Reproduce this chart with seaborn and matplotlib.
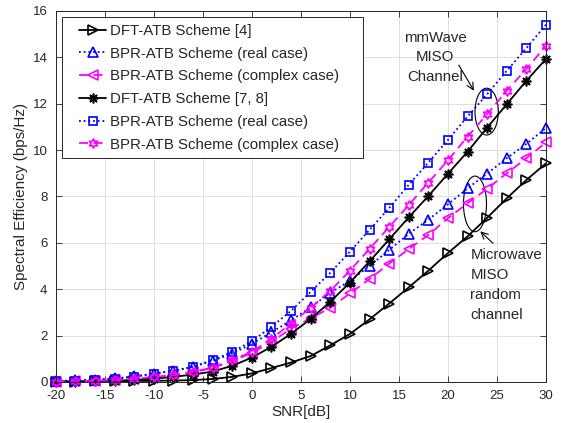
import numpy as np
import pandas as pd
import matplotlib
matplotlib.use("Agg")
import matplotlib.pyplot as plt
from matplotlib.patches import Ellipse
from matplotlib.legend_handler import HandlerLine2D
import seaborn as sns

# SNR grid (dB)
snr = list(range(-20, 31, 2))

# Microwave MISO random channel
dft_4 = [0.02, 0.02, 0.03, 0.03, 0.04, 0.05, 0.06, 0.08, 0.13, 0.22, 0.37, 0.60, 0.84,
         1.12, 1.58, 2.07, 2.70, 3.38, 4.08, 4.80, 5.56, 6.28, 7.08, 7.92, 8.71, 9.43]
bpr_real_mw = [0.05, 0.07, 0.10, 0.15, 0.24, 0.36, 0.48, 0.65, 0.92, 1.22, 1.65, 2.14, 2.66,
               3.22, 3.85, 4.36, 5.00, 5.69, 6.39, 7.00, 7.66, 8.35, 8.99, 9.65, 10.27, 10.95]
bpr_cplx_mw = [0.02, 0.03, 0.05, 0.08, 0.13, 0.20, 0.28, 0.42, 0.60, 0.90, 1.25, 1.73, 2.30,
               2.75, 3.19, 3.82, 4.44, 5.10, 5.73, 6.34, 7.06, 7.71, 8.33, 9.00, 9.65, 10.33]

# mmWave MISO channel
dft_78 = [0.01, 0.02, 0.03, 0.05, 0.09, 0.14, 0.22, 0.32, 0.45, 0.70, 1.05, 1.52, 2.08,
          2.72, 3.46, 4.29, 5.20, 6.15, 7.10, 8.02, 8.98, 9.93, 10.97, 11.98, 12.99, 13.93]
bpr_real_mm = [0.03, 0.05, 0.08, 0.14, 0.22, 0.36, 0.48, 0.66, 0.94, 1.30, 1.76, 2.38, 3.07,
               3.89, 4.71, 5.62, 6.56, 7.50, 8.50, 9.46, 10.44, 11.45, 12.41, 13.42, 14.40, 15.41]
bpr_cplx_mm = [0.02, 0.03, 0.05, 0.08, 0.13, 0.22, 0.29, 0.43, 0.62, 0.94, 1.30, 1.87, 2.52,
               3.20, 3.93, 4.80, 5.74, 6.68, 7.63, 8.60, 9.56, 10.58, 11.55, 12.56, 13.50, 14.50]

labels = ["DFT-ATB Scheme [4]", "BPR-ATB Scheme (real case)", "BPR-ATB Scheme (complex case)",
          "DFT-ATB Scheme [7, 8]", "BPR-ATB Scheme (real case)", "BPR-ATB Scheme (complex case)"]

sns.set_theme(style="whitegrid")
plt.rcParams['font.family'] = ['Liberation Sans', 'DejaVu Sans']
plt.rcParams['axes.unicode_minus'] = False

fig, ax = plt.subplots(figsize=(5.64, 4.23), dpi=100)
fig.subplots_adjust(left=0.099, right=0.968, bottom=0.097, top=0.974)

dotted = (0, (1, 1.6))
dashed = (0, (5, 3))
styles = [
    (dft_4, 'black', '-', '>'),
    (bpr_real_mw, '#0000ff', dotted, '^'),
    (bpr_cplx_mw, '#ff00ff', dashed, '<'),
    (dft_78, 'black', '-', (8, 2, 0)),
    (bpr_real_mm, '#0000ff', dotted, 's'),
    (bpr_cplx_mm, '#ff00ff', dashed, (6, 1, 0)),
]

for (vals, col, ls, mk), lab in zip(styles, labels):
    df = pd.DataFrame({'snr': snr, 'se': vals})
    ms = 6 if mk == 's' else 7
    sns.lineplot(data=df, x='snr', y='se', ax=ax, color=col, linestyle=ls, linewidth=1.3,
                 marker=mk, markersize=ms, markerfacecolor='none', markeredgecolor=col,
                 markeredgewidth=1.2, label=lab + '    ', clip_on=False)

ax.set_xlim(-20, 30)
ax.set_ylim(0, 16)
ax.set_xticks(range(-20, 31, 5))
ax.set_yticks(range(0, 17, 2))
ax.set_xlabel('SNR[dB]', fontsize=11, color='#262626', labelpad=2)
ax.set_ylabel('Spectral Efficiency (bps/Hz)', fontsize=11, color='#262626', labelpad=3)
ax.tick_params(direction='in', length=4, width=0.6, colors='#262626', labelsize=9.5,
               top=True, right=True, bottom=True, left=True)
ax.tick_params(axis='x', pad=6)
ax.tick_params(axis='y', pad=6)
ax.grid(True, color='#dedede', linewidth=0.7)
for sp in ax.spines.values():
    sp.set_color('#262626')
    sp.set_linewidth(0.7)

handles, labs = ax.get_legend_handles_labels()
leg = ax.legend(handles, labs, loc='upper left', fontsize=10.8, frameon=True, fancybox=False,
                framealpha=1, edgecolor='#262626', handlelength=2.5, borderaxespad=0.42,
                labelspacing=0.58, handletextpad=0.25, borderpad=0.45,
                handler_map={h: HandlerLine2D(xpad=0.66) for h in handles})
leg.get_frame().set_linewidth(0.7)

# annotations
ax.add_patch(Ellipse((23.95, 11.66), 2.38, 2.02, fill=False, ec='black', lw=0.8))
ax.add_patch(Ellipse((22.76, 7.68), 2.35, 2.4, fill=False, ec='black', lw=0.8))
ax.annotate('', xy=(22.8, 12.46), xytext=(20.96, 13.77),
            arrowprops=dict(arrowstyle='->', color='black', lw=0.8))
ax.annotate('', xy=(23.1, 6.58), xytext=(24.8, 5.9),
            arrowprops=dict(arrowstyle='->', color='black', lw=0.8))
ax.text(18.7, 14.0, 'mmWave\nMISO\nChannel', ha='center', va='center', fontsize=10.8,
        linespacing=1.5, color='#262626')
ax.text(22.3, 4.18, 'Microwave\nMISO\nrandom\nchannel', ha='left', va='center', fontsize=10.8,
        linespacing=1.55, color='#262626')

fig.savefig('out.png', dpi=100)
